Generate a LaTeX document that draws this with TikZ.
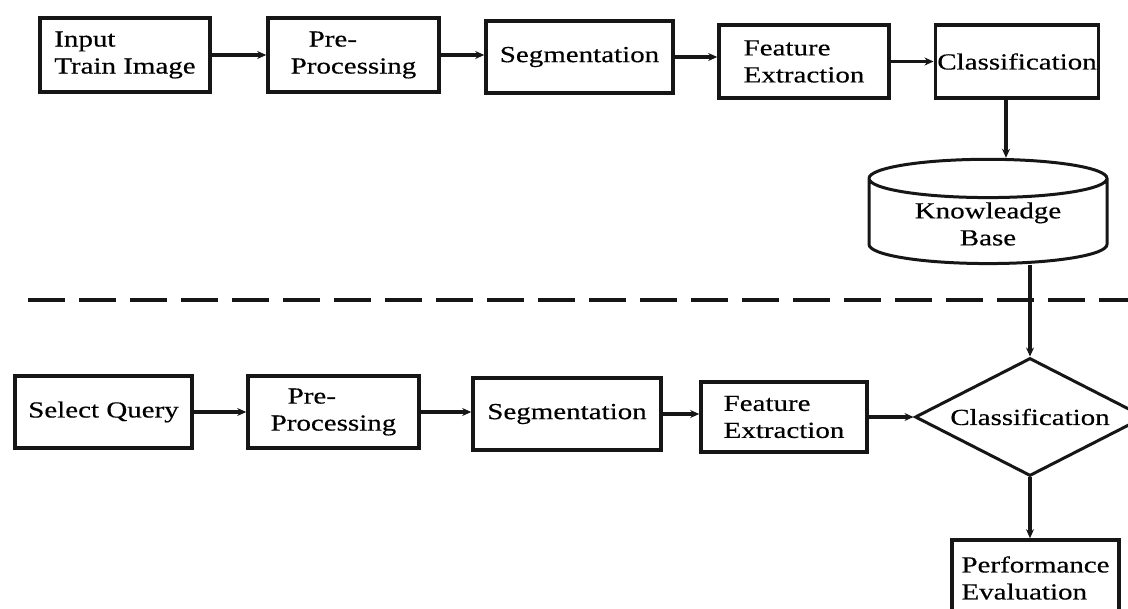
\documentclass[tikz,border=0pt]{standalone}
\usepackage{fontspec}
\setmainfont{Liberation Serif}[FakeStretch=1.26,FakeBold=0.4]
\usepackage{tikz}
\usetikzlibrary{arrows.meta,positioning,shapes.geometric}
\definecolor{inkline}{RGB}{22,22,22}
\tikzset{
  stage/.style={draw=inkline,line width=3.6pt,fill=white,inner sep=2pt,
                minimum width=170pt,minimum height=73pt,align=center,
                font=\fontsize{23}{27}\selectfont},
  stageleft/.style={stage,align=left},
  kbase/.style={cylinder,shape border rotate=90,aspect=0.25,draw=inkline,
                line width=3pt,fill=white,minimum width=238pt,minimum height=100pt,
                align=center,font=\fontsize{23}{27}\selectfont},
  decision/.style={diamond,aspect=2,draw=inkline,line width=3pt,fill=white,
                inner sep=0pt,minimum width=230pt,minimum height=118pt,
                font=\fontsize{23}{27}\selectfont},
  flow/.style={-{Stealth[length=9pt,width=8pt]},draw=inkline,line width=3.2pt},
  divider/.style={draw=inkline,line width=4.5pt,dash pattern=on 37pt off 14pt},
}
\begin{document}
\begin{tikzpicture}[x=1pt,y=-1pt]
  \useasboundingbox (0,0) rectangle (1128,609);
  % ---------------- training stage ----------------
  \node[stageleft,minimum width=170pt,minimum height=74pt] (inputImg) at (125,55)   {Input\\Train Image};
  \node[stageleft,minimum width=171pt,minimum height=74pt] (preTop)   at (353.5,55) {\hspace*{18pt}Pre-\\Processing};
  \node[stage,minimum width=187pt,minimum height=72pt]     (segTop)   at (579.5,57) {Segmentation};
  \node[stageleft,minimum width=170pt,minimum height=73pt] (featTop)  at (804,61.5) {Feature\\Extraction};
  \node[stage,minimum width=160pt,minimum height=73pt]     (classTop) at (1017,61.5){Classification};
  \node[kbase] (kbase) at (988,224) {Knowleadge\\Base};
  % ---------------- testing stage ----------------
  \node[stage,minimum width=177pt,minimum height=72pt]     (selQuery) at (103.5,412){Select Query};
  \node[stageleft,minimum width=171pt,minimum height=72pt] (preBot)   at (333.5,412){\hspace*{17pt}Pre-\\Processing};
  \node[stage,minimum width=188pt,minimum height=72pt]     (segBot)   at (567,414)  {Segmentation};
  \node[stageleft,minimum width=166pt,minimum height=70pt] (featBot)  at (784,417)  {Feature\\Extraction};
  \node[decision] (decide) at (1030,417) {Classification};
  \node[stageleft,minimum width=167pt,minimum height=76pt] (perfEval) at (1035.5,578){Performance\\Evaluation};
  % ---------------- separator ----------------
  \draw[divider] (28,300) -- (1140,300);
  % ---------------- flow edges ----------------
  \draw[flow] (inputImg.east) -- (inputImg.east -| preTop.west);
  \draw[flow] (preTop.east)   -- (preTop.east -| segTop.west);
  \draw[flow] (segTop.east)   -- (segTop.east -| featTop.west);
  \draw[flow] (featTop.east)  -- (featTop.east -| classTop.west);
  \draw[flow] ([xshift=-11pt]classTop.south) -- ([xshift=-11pt]classTop.south |- kbase.north);
  \draw[flow] (kbase.south -| decide.north) -- (decide.north);
  \draw[flow] (selQuery.east) -- (selQuery.east -| preBot.west);
  \draw[flow] (preBot.east)   -- (preBot.east -| segBot.west);
  \draw[flow] (segBot.east)   -- (segBot.east -| featBot.west);
  \draw[flow] (featBot.east)  -- (decide.west);
  \draw[flow] (decide.south)  -- (decide.south |- perfEval.north);
\end{tikzpicture}
\end{document}
